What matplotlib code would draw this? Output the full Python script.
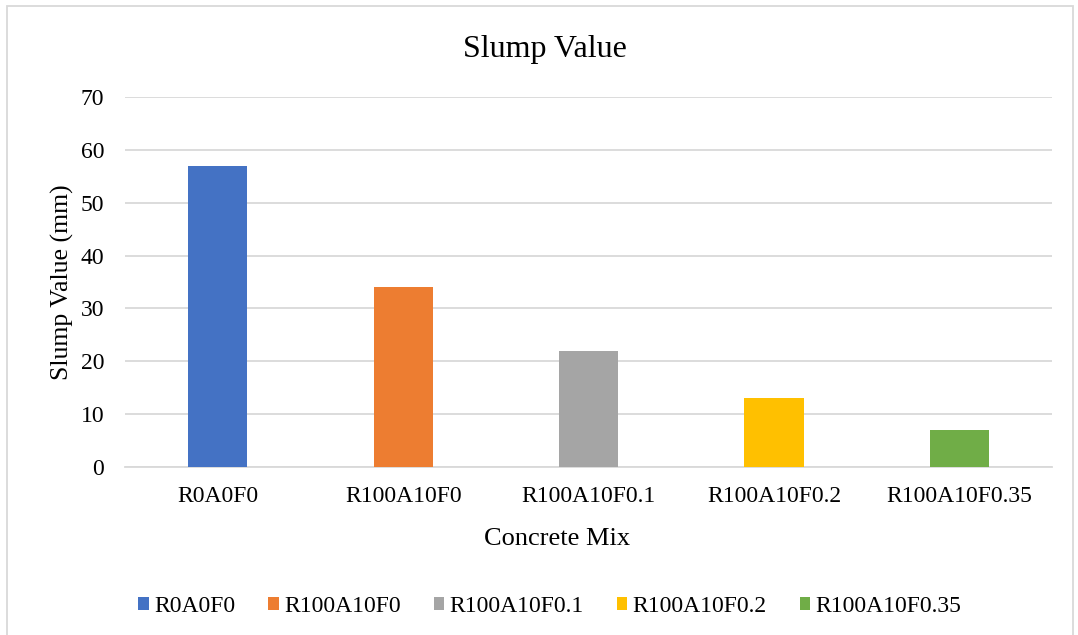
import matplotlib
matplotlib.use("Agg")
import matplotlib.pyplot as plt
from matplotlib.patches import Rectangle, Patch

plt.rcParams['font.family'] = ['Liberation Serif', 'DejaVu Serif']

mixes = ['R0A0F0', 'R100A10F0', 'R100A10F0.1', 'R100A10F0.2', 'R100A10F0.35']
slump = [57, 34, 22, 13, 7]
colors = ['#4472C4', '#ED7D31', '#A5A5A5', '#FFC000', '#70AD47']
y_ticks = list(range(0, 71, 10))

fig = plt.figure(figsize=(10.78, 6.35), dpi=100)
ax = fig.add_axes([0.116, 0.2646, 0.86, 0.5827])

x = range(len(mixes))
ax.bar(x, slump, width=0.32, color=colors, zorder=3)

ax.set_xlim(-0.5, len(mixes) - 0.5)
ax.set_ylim(0, 70)
ax.set_yticks(y_ticks)
ax.set_xticks(list(x))
ax.set_xticklabels(mixes)
ax.tick_params(axis='both', length=0, labelsize=17, colors='#000000')
ax.tick_params(axis='y', pad=15)
ax.tick_params(axis='x', pad=14)
ax.grid(axis='y', color='#D9D9D9', linewidth=1.3, zorder=0)
for side in ['top', 'right', 'left']:
    ax.spines[side].set_visible(False)
ax.spines['bottom'].set_color('#D9D9D9')
ax.spines['bottom'].set_linewidth(1.3)

ax.set_title('Slump Value', fontsize=23, pad=29, x=0.453)
ax.set_xlabel('Concrete Mix', fontsize=19, labelpad=15, x=0.466)
ax.set_ylabel('Slump Value (mm)', fontsize=18.5, labelpad=5)

handles = [Patch(facecolor=c, label=m) for m, c in zip(mixes, colors)]
fig.legend(handles=handles, loc='center', bbox_to_anchor=(0.51, 0.045), ncol=5,
           frameon=False, fontsize=17, handlelength=0.45, handleheight=0.45,
           handletextpad=0.22, columnspacing=1.4)

# chart area border
fig.patches.append(Rectangle((0.0065, -0.01), 0.989, 1.0, transform=fig.transFigure,
                             fill=False, edgecolor='#D9D9D9', linewidth=1.3))

fig.savefig('out.png', dpi=100)
